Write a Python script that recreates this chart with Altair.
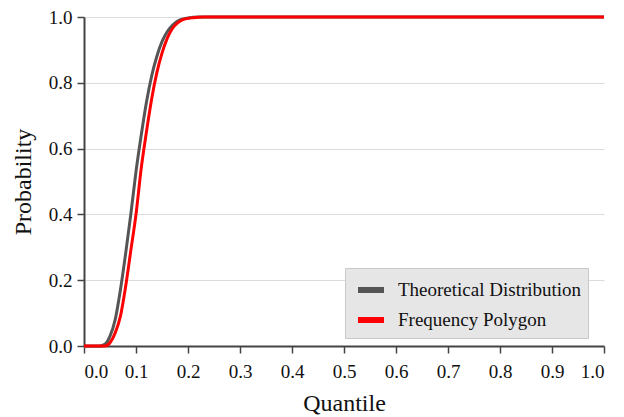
import altair as alt
import pandas as pd

theo_q = [0, 0.03, 0.04, 0.05, 0.06, 0.07, 0.08, 0.09, 0.10, 0.11, 0.12, 0.13, 0.14, 0.15, 0.16, 0.17, 0.18, 0.20, 0.22, 0.25, 1.0]
theo_p = [0, 0, 0.005, 0.03, 0.08, 0.17, 0.28, 0.40, 0.53, 0.64, 0.74, 0.82, 0.88, 0.925, 0.955, 0.975, 0.988, 0.997, 1.0, 1.0, 1.0]

freq_q = [0, 0.04, 0.05, 0.06, 0.07, 0.08, 0.09, 0.10, 0.11, 0.12, 0.13, 0.14, 0.15, 0.16, 0.17, 0.18, 0.19, 0.21, 0.23, 1.0]
freq_p = [0, 0, 0.01, 0.04, 0.09, 0.18, 0.29, 0.40, 0.54, 0.65, 0.75, 0.83, 0.89, 0.935, 0.965, 0.982, 0.992, 0.998, 1.0, 1.0]

series = ["Theoretical Distribution", "Frequency Polygon"]
colors = ["#555555", "#ff0000"]

x_ticks = [0.0, 0.1, 0.2, 0.3, 0.4, 0.5, 0.6, 0.7, 0.8, 0.9, 1.0]
y_ticks = [0.0, 0.2, 0.4, 0.6, 0.8, 1.0]

rows = []
for i, (q, p) in enumerate(zip(theo_q, theo_p)):
    rows.append({"q": q, "p": p, "s": series[0], "o": i})
for i, (q, p) in enumerate(zip(freq_q, freq_p)):
    rows.append({"q": q, "p": p, "s": series[1], "o": i})
df = pd.DataFrame(rows)

FONT = "Liberation Serif"

chart = alt.Chart(df).mark_line(strokeWidth=3, interpolate="monotone").encode(
    x=alt.X("q:Q", scale=alt.Scale(domain=[0, 1], nice=False),
            axis=alt.Axis(values=x_ticks, format=".1f", title="Quantile", grid=False,
                          labelFontSize=19, titleFontSize=24, titleFontWeight="normal",
                          labelPadding=9, titlePadding=10)),
    y=alt.Y("p:Q", scale=alt.Scale(domain=[0, 1], nice=False),
            axis=alt.Axis(values=y_ticks, format=".1f", title="Probability", grid=True,
                          labelFontSize=19, titleFontSize=24, titleFontWeight="normal",
                          labelPadding=5, titlePadding=13)),
    color=alt.Color("s:N", scale=alt.Scale(domain=series, range=colors),
                    legend=alt.Legend(title=None, orient="none", legendX=261, legendY=251,
                                      symbolType="stroke", symbolStrokeWidth=6, symbolSize=676,
                                      symbolOffset=4,
                                      labelFontSize=19, labelLimit=400,
                                      fillColor="#e6e6e6", strokeColor="#c8c8c8",
                                      padding=6, rowPadding=2, labelOffset=11)),
    order="o:Q",
    detail="s:N",
).properties(
    width=520, height=329,
    autosize=alt.AutoSizeParams(type="none"),
    padding={"left": 76, "top": 9, "right": 12, "bottom": 70},
).configure_view(stroke=None).configure_axis(
    labelFont=FONT, titleFont=FONT, labelColor="#111", titleColor="#111",
    domainColor="#444", tickColor="#444", domainWidth=2, tickWidth=1.5, tickSize=7,
    gridColor="#dcdcdc", gridWidth=1,
).configure_legend(labelFont=FONT, labelColor="#111")

chart.save("out.html", embed_options={"renderer": "svg", "actions": False})
